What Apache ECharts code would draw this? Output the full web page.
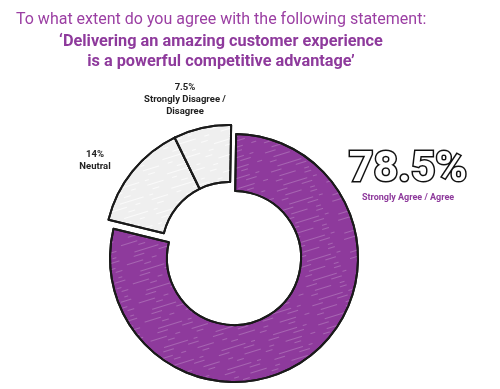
<!DOCTYPE html>
<html><head><meta charset="utf-8">
<script src="https://cdn.jsdelivr.net/npm/echarts@6/dist/echarts.min.js"></script>
<style>html,body{margin:0;padding:0;background:#fff}#c{width:500px;height:389px}</style>
</head><body><div id="c"></div>
<script>
const categories = ['Strongly Agree / Agree', 'Neutral', 'Strongly Disagree /\nDisagree'];
const values = [78.5, 14, 7.5];
const titleLine1 = 'To what extent do you agree with the following statement:';
const titleLine2 = '‘Delivering an amazing customer experience\nis a powerful competitive advantage’';

const purple = '#8e3a9c';
const grey = '#efefef';
const labelPos = [[408, 176], [95, 161], [185, 100]];

const chart = echarts.init(document.getElementById('c'));
const streaks = { symbol: 'rect', symbolSize: 1, dashArrayX: [[17, 9, 5, 12], [7, 23], [25, 6, 4, 19], [11, 15]], dashArrayY: [1, 3, 1, 5], rotation: -0.3, color: 'rgba(255,255,255,0.22)' };
const greyStreaks = { symbol: 'rect', symbolSize: 1, dashArrayX: [[17, 9, 5, 12], [7, 23], [25, 6, 4, 19]], dashArrayY: [1, 4], rotation: -0.3, color: 'rgba(255,255,255,0.7)' };
const agreeData = categories.map((c, i) => ({
  name: c, value: values[i],
  itemStyle: i === 0 ? { color: purple, decal: streaks } : { color: 'transparent', borderWidth: 0, decal: { symbol: 'none' } },
  label: { show: i === 0 }
}));
const otherData = categories.map((c, i) => ({
  name: c, value: values[i],
  itemStyle: i === 0 ? { color: 'transparent', borderWidth: 0, decal: { symbol: 'none' } } : { color: grey, decal: greyStreaks },
  label: { show: i !== 0 }
}));
chart.setOption({
  animation: false,
  aria: { enabled: true, decal: { show: true } },
  title: [
    { text: titleLine1, left: 11, top: 7, textStyle: { fontFamily: 'Roboto', fontSize: 16, fontWeight: 'normal', color: '#9b3fa3' } },
    { text: titleLine2, left: 216, top: 27, textAlign: 'center', textStyle: { fontFamily: 'Roboto', fontSize: 16.3, fontWeight: 'bold', color: '#8e3a9c', lineHeight: 20, align: 'center' } }
  ],
  series: [
    {
      type: 'pie', center: [234, 258], radius: [67, 124], startAngle: 89, clockwise: true,
      itemStyle: { borderColor: '#1a1a1a', borderWidth: 2 },
      label: {
        position: 'outside',
        formatter: p => '{big|' + p.value + '%}\n{sub|' + p.name + '}',
        rich: {
          big: { fontFamily: 'Roboto', fontSize: 43, color: '#fff', textBorderColor: '#111', textBorderWidth: 3, fontWeight: 'bold', lineHeight: 44, align: 'center' },
          sub: { fontFamily: 'Roboto', fontSize: 9, fontWeight: 'bold', color: purple, align: 'center', lineHeight: 12 }
        }
      },
      labelLine: { show: false },
      labelLayout: p => ({ x: labelPos[p.dataIndex][0], y: labelPos[p.dataIndex][1], align: 'center', verticalAlign: 'middle' }),
      data: agreeData
    },
    {
      type: 'pie', center: [229, 249], radius: [67, 124], startAngle: 89, clockwise: true,
      itemStyle: { borderColor: '#1a1a1a', borderWidth: 2 },
      label: {
        position: 'outside',
        formatter: p => p.value + '%\n' + p.name,
        fontFamily: 'Roboto', fontSize: 9.5, fontWeight: 'bold', color: '#222', lineHeight: 12, align: 'center'
      },
      labelLine: { show: false },
      labelLayout: p => ({ x: labelPos[p.dataIndex][0], y: labelPos[p.dataIndex][1], align: 'center', verticalAlign: 'middle' }),
      data: otherData
    }
  ]
});
</script></body></html>
